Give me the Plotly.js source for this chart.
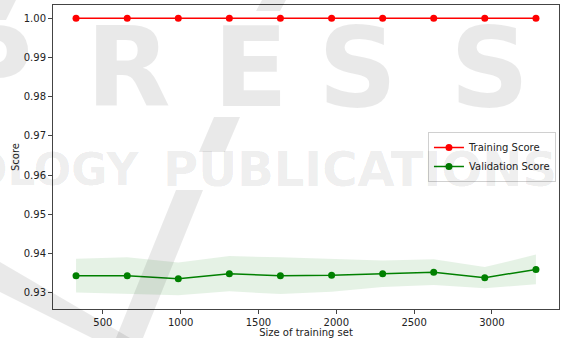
<!DOCTYPE html>
<html>
<head>
<meta charset="utf-8">
<script src="https://cdn.plot.ly/plotly-3.0.1.min.js"></script>
<style>
  html, body { margin: 0; padding: 0; background: #fff; }
  #chart { width: 566px; height: 338px; }
</style>
</head>
<body>
<div id="chart"></div>
<script>
// Learning curve: training vs. cross-validation score
const trainSizes  = [328, 657, 985, 1313, 1641, 1970, 2298, 2626, 2954, 3283];
const trainScore  = [1.0, 1.0, 1.0, 1.0, 1.0, 1.0, 1.0, 1.0, 1.0, 1.0];
const valScore    = [0.9343, 0.9343, 0.9335, 0.9348, 0.9343, 0.9344, 0.9348, 0.9352, 0.9338, 0.9359];
const valStd      = [0.0043, 0.0047, 0.0042, 0.0045, 0.0047, 0.0042, 0.0034, 0.0033, 0.0027, 0.0038];
const xTicks      = [500, 1000, 1500, 2000, 2500, 3000];
const seriesNames = ['Training Score', 'Validation Score'];

const valUpper = valScore.map((v, i) => v + valStd[i]);
const valLower = valScore.map((v, i) => v - valStd[i]);

const W = 566, H = 338;
const M = { l: 53, r: 7, t: 5, b: 29 };
const PW = W - M.l - M.r, PH = H - M.t - M.b;
// pixel -> paper coordinates for the overlay
const px = x => (x - M.l) / PW;
const py = y => (H - M.b - y) / PH;

const traces = [
  { x: trainSizes, y: valLower, mode: 'lines', line: { width: 0 },
    showlegend: false, hoverinfo: 'skip' },
  { x: trainSizes, y: valUpper, mode: 'lines', line: { width: 0 },
    fill: 'tonexty', fillcolor: 'rgba(0,128,0,0.1)', showlegend: false, hoverinfo: 'skip' },
  { x: trainSizes, y: trainScore, name: seriesNames[0], mode: 'lines+markers',
    line: { color: '#ff0000', width: 1.5 }, marker: { color: '#ff0000', size: 7 } },
  { x: trainSizes, y: valScore, name: seriesNames[1], mode: 'lines+markers',
    line: { color: '#008000', width: 1.5 }, marker: { color: '#008000', size: 7 } }
];

// publisher overlay
const wm = 'rgba(0,0,0,0.085)';
const wmFont = (s) => ({ family: 'DejaVu Sans', size: s, color: wm, weight: 'bold' });
const bigLetters = [['P', -8], ['R', 128], ['E', 250], ['S', 357], ['S', 489]];
const annotations = bigLetters.map(([ch, cx]) => ({
  xref: 'paper', yref: 'paper', x: px(cx), y: py(68), text: ch,
  showarrow: false, xanchor: 'center', yanchor: 'middle', font: wmFont(110)
}));
annotations.push(
  { xref: 'paper', yref: 'paper', x: px(141), y: py(169), text: 'OLOGY',
    showarrow: false, xanchor: 'right', yanchor: 'middle', font: wmFont(44) },
  { xref: 'paper', yref: 'paper', x: px(161), y: py(169), text: 'PUBLICATIONS',
    showarrow: false, xanchor: 'left', yanchor: 'middle', font: wmFont(48) }
);

const poly = pts => 'M' + pts.map(p => px(p[0]) + ',' + py(p[1])).join(' L') + ' Z';
const strokes = [
  [[0, 0], [16, 0], [6, 20], [0, 20]],
  [[262, 0], [286, 0], [280, 11], [256, 11]],
  [[214, 117], [240, 117], [225, 152], [199, 152]],
  [[176, 190], [203, 190], [143, 338], [116, 338]],
  [[0, 262], [0, 292], [92, 338], [130, 338]]
];
const shapes = strokes.map(s => ({
  type: 'path', xref: 'paper', yref: 'paper', path: poly(s),
  fillcolor: wm, line: { width: 0 }, layer: 'above'
}));

const axisCommon = {
  showgrid: false, zeroline: false, showline: true, mirror: true,
  linecolor: '#444', linewidth: 1, ticks: 'outside', ticklen: 4,
  tickwidth: 1, tickcolor: '#444',
  tickfont: { family: 'DejaVu Sans', size: 10, color: '#222' }
};

const layout = {
  width: W, height: H, margin: M,
  paper_bgcolor: '#fff', plot_bgcolor: '#fff',
  font: { family: 'DejaVu Sans', size: 10, color: '#222' },
  xaxis: Object.assign({}, axisCommon, {
    range: [180, 3431], tickvals: xTicks,
    title: { text: 'Size of training set', font: { size: 10 }, standoff: 4 }
  }),
  yaxis: Object.assign({}, axisCommon, {
    range: [0.9258, 1.0034], dtick: 0.01, tickformat: '.2f',
    title: { text: 'Score', font: { size: 10 }, standoff: 2 }
  }),
  legend: {
    x: 0.994, y: 0.5, xanchor: 'right', yanchor: 'middle',
    traceorder: 'normal',
    bgcolor: 'rgba(255,255,255,0.8)', bordercolor: '#d0d0d0', borderwidth: 1,
    font: { family: 'DejaVu Sans', size: 10, color: '#222' },
    tracegroupgap: 0, itemwidth: 30
  },
  annotations: annotations,
  shapes: shapes,
  showlegend: true
};

Plotly.newPlot('chart', traces, layout, { staticPlot: true, displayModeBar: false });
</script>
</body>
</html>
